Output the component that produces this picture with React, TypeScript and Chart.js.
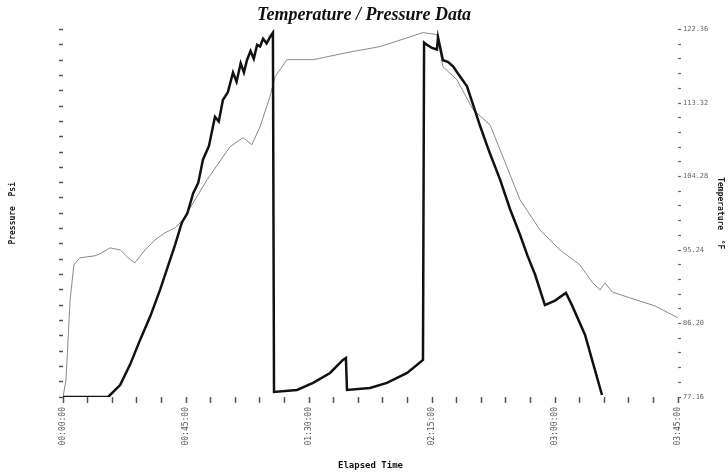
import React, { useEffect, useRef } from "react";
import { Chart, registerables } from "chart.js";

Chart.register(...registerables);

// Elapsed time in minutes
const timeTickLabels = ["00:00:00", "00:45:00", "01:30:00", "02:15:00", "03:00:00", "03:45:00"];
const tempTickLabels = ["77.16", "86.20", "95.24", "104.28", "113.32", "122.36"];

const pressureTime = [
  0, 16.5, 20.9, 24.5, 28.2, 32.0, 35.5, 38.5, 41.0, 43.5, 45.5, 47.6, 49.5, 51.2, 53.4, 55.6, 57.0, 58.5,
  60.3, 62.2, 63.5, 65.0, 66.2, 67.3, 68.6, 69.8, 71.0, 72.1, 73.2, 74.5, 75.7, 76.8,
  77.2, 85.6, 91.5, 97.7, 102.4, 103.5, 103.9, 112.3, 118.5, 125.9, 131.7,
  132.1, 133.2, 135.0, 136.8, 137.2, 139.0, 140.8, 142.7, 145.0, 147.8, 150.2, 152.6, 156.0, 159.9,
  163.5, 167.2, 170.0, 172.7, 176.3, 180.0, 184.0, 186.2, 191.0, 194.6, 197.2,
];
const pressureValues = [
  0, 0, 0.78, 2.1, 3.73, 5.3, 7.0, 8.6, 9.94, 11.4, 12.0, 13.3, 14.0, 15.5, 16.4, 18.3, 18.0, 19.4,
  19.9, 21.2, 20.6, 21.8, 21.2, 22.0, 22.6, 22.1, 23.0, 22.9, 23.4, 23.1, 23.5, 23.8,
  0.33, 0.46, 0.92, 1.57, 2.42, 2.55, 0.46, 0.59, 0.92, 1.57, 2.42,
  23.15, 23.0, 22.8, 22.7, 23.5, 22.0, 21.9, 21.6, 21.0, 20.3, 19.0, 17.7, 16.0, 14.2,
  12.3, 10.6, 9.2, 8.0, 6.0, 6.3, 6.8, 6.0, 4.05, 1.77, 0.13,
];

const tempTime = [
  0, 1.1, 2.6, 4.0, 6.2, 11.7, 13.5, 17.2, 20.9, 23.8, 26.3, 30.0, 33.7, 37.3, 41.0, 43.9, 52.7, 61.1,
  65.9, 69.1, 72.1, 75.7, 77.6, 81.9, 91.5, 103.9, 116.0, 131.7, 136.8, 139.0, 144.1, 150.0, 156.2,
  159.9, 167.2, 174.5, 181.8, 189.1, 193.5, 196.5, 198.3, 200.9, 207.4, 216.6, 225,
];
const tempValues = [
  77.16, 79.25, 89.11, 93.42, 94.28, 94.53, 94.77, 95.51, 95.26, 94.28, 93.66, 95.26, 96.5, 97.36, 97.97,
  98.96, 103.89, 107.95, 109.06, 108.2, 110.41, 114.11, 116.57, 118.66, 118.66, 119.53, 120.27, 121.99,
  121.74, 117.8, 116.2, 112.51, 110.66, 107.58, 101.42, 97.73, 95.26, 93.42, 91.32, 90.34, 91.2, 90.09,
  89.35, 88.37, 86.89,
];

const TEMP_MIN = 77.16;
const TEMP_MAX = 122.36;

export default function App() {
  const ref = useRef<HTMLCanvasElement>(null);
  useEffect(() => {
    if (!ref.current) return;
    const mono = "'DejaVu Sans Mono', monospace";
    const chart = new Chart(ref.current, {
      type: "line",
      data: {
        datasets: [
          {
            label: "Pressure",
            data: pressureTime.map((t, i) => ({ x: t, y: pressureValues[i] })),
            borderColor: "#111",
            borderWidth: 2.5,
            pointRadius: 0,
            tension: 0,
            yAxisID: "y",
          },
          {
            label: "Temperature",
            data: tempTime.map((t, i) => ({ x: t, y: tempValues[i] })),
            borderColor: "#8a8a8a",
            borderWidth: 1,
            pointRadius: 0,
            tension: 0,
            yAxisID: "y1",
          },
        ],
      },
      options: {
        animation: false,
        responsive: false,
        layout: { padding: 0 },
        plugins: {
          legend: { display: false },
          tooltip: { enabled: false },
          title: {
            display: true,
            text: "Temperature / Pressure Data",
            font: { family: "'Liberation Serif', serif", size: 18, style: "italic", weight: "bold" },
            color: "#111",
            padding: { top: 5, bottom: 3 },
          },
        },
        scales: {
          x: {
            type: "linear",
            min: 0,
            max: 225,
            border: { display: false },
            grid: { drawOnChartArea: false, tickLength: 6, color: "#555", tickWidth: 1.5 },
            afterBuildTicks: (s: any) => {
              s.ticks = Array.from({ length: 26 }, (_, i) => ({ value: i * 9 }));
            },
            afterFit: (s: any) => {
              s.height = 77;
            },
            ticks: {
              autoSkip: false,
              maxRotation: 90,
              minRotation: 90,
              font: { family: mono, size: 8 },
              color: "#555",
              padding: 4,
              callback: (_v: any, i: number) => (i % 5 === 0 ? timeTickLabels[i / 5] : ""),
            },
            title: {
              display: true,
              text: "Elapsed Time",
              font: { family: mono, size: 9, weight: "bold" },
              color: "#111",
              padding: { top: 0, bottom: 3 },
            },
          },
          y: {
            position: "left",
            min: 0,
            max: 24,
            border: { display: false },
            grid: { drawOnChartArea: false, tickLength: 4, color: "#555", tickWidth: 1.5 },
            afterBuildTicks: (s: any) => {
              s.ticks = Array.from({ length: 25 }, (_, i) => ({ value: i }));
            },
            afterFit: (s: any) => {
              s.width = 63;
            },
            ticks: { autoSkip: false, callback: () => "", font: { size: 6 } },
            title: {
              display: true,
              text: "Pressure  Psi",
              font: { family: mono, size: 8, weight: "bold" },
              color: "#222",
              padding: { top: 8, bottom: 0 },
            },
          },
          y1: {
            position: "right",
            min: TEMP_MIN,
            max: TEMP_MAX,
            border: { display: false },
            grid: { drawOnChartArea: false, tickLength: 3, color: "#666", tickWidth: 1.2 },
            afterBuildTicks: (s: any) => {
              s.ticks = Array.from({ length: 26 }, (_, i) => ({
                value: TEMP_MIN + (i * (TEMP_MAX - TEMP_MIN)) / 25,
              }));
            },
            afterFit: (s: any) => {
              s.width = 50;
            },
            ticks: {
              autoSkip: false,
              font: { family: mono, size: 7 },
              color: "#666",
              padding: 2,
              callback: (_v: any, i: number) => (i % 5 === 0 ? tempTickLabels[i / 5] : ""),
            },
            title: {
              display: true,
              text: "Temperature  °F",
              font: { family: mono, size: 8, weight: "bold" },
              color: "#222",
              padding: { top: 3, bottom: 0 },
            },
          },
        },
      },
    });
    return () => chart.destroy();
  }, []);
  return (
    <div style={{ position: "fixed", left: 0, top: 0, width: 728, height: 474, background: "#fff" }}>
      <canvas ref={ref} width={728} height={474} />
    </div>
  );
}
